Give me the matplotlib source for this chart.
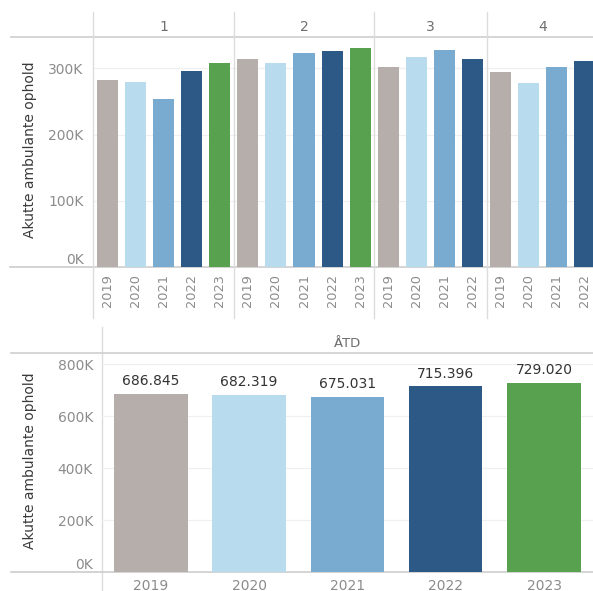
import matplotlib
matplotlib.use("Agg")
import matplotlib.pyplot as plt
from matplotlib.ticker import FuncFormatter

# ---------------- data ----------------
years = ["2019", "2020", "2021", "2022", "2023"]
quarters = ["1", "2", "3", "4"]
q1_values = [282500, 279000, 253000, 296000, 307700]
q2_values = [314000, 307700, 323000, 326000, 331000]
q3_values = [302000, 317000, 328000, 315000]
q4_values = [294500, 278000, 301700, 310700]
atd_years = ["2019", "2020", "2021", "2022", "2023"]
atd_values = [686845, 682319, 675031, 715396, 729020]
atd_header = "ÅTD"
y_label = "Akutte ambulante ophold"

year_colors = {"2019": "#b6aeaa", "2020": "#b8dbee", "2021": "#79aad0",
               "2022": "#2c5985", "2023": "#58a14e"}

plt.rcParams['font.family'] = ['DejaVu Sans']

W, H = 593, 591
fig = plt.figure(figsize=(W / 100, H / 100), dpi=100)
fig.patch.set_facecolor("white")


def rect(x0, y0, x1, y1):
    return [x0 / W, 1 - y1 / H, (x1 - x0) / W, (y1 - y0) / H]


# overlay for structural lines
ov = fig.add_axes([0, 0, 1, 1])
ov.set_xlim(0, W)
ov.set_ylim(H, 0)
ov.axis("off")
ov.patch.set_alpha(0)

line_c = "#d2d2d2"
# top chart structure
ov.plot([11, W], [36.7, 36.7], color=line_c, lw=1.3)
ov.plot([10, W], [266.7, 266.7], color="#c8c8c8", lw=1.1)
# bottom chart structure
ov.plot([101.7, 101.7], [327, H], color="#dcdcdc", lw=1.0)
ov.plot([11, W], [352.7, 352.7], color=line_c, lw=1.3)
ov.plot([11, W], [572.3, 572.3], color="#c8c8c8", lw=1.1)

kfmt = FuncFormatter(lambda v, p: f"{int(round(v / 1000))}K")
tick_c = "#8c8c8c"

# ---------------- top chart ----------------
top0, top1 = 36.7, 266.7
ax = fig.add_axes(rect(93.3, top0, 599, top1))
ax.set_facecolor("none")
panels = [q1_values, q2_values, q3_values, q4_values]
pos = 0
bounds = [0]
xt, xl = [], []
for vals in panels:
    for i, v in enumerate(vals):
        yr = years[i]
        ax.bar(pos + 0.5, v, width=0.75, color=year_colors[yr], zorder=2)
        xt.append(pos + 0.5)
        xl.append(yr)
        pos += 1
    bounds.append(pos)
ax.set_xlim(0, pos)
ax.set_ylim(0, 348000)
ax.set_yticks([0, 100000, 200000, 300000])
ax.yaxis.set_major_formatter(kfmt)
ax.set_xticks(xt)
ax.set_xticklabels(xl, rotation=90, fontsize=9.3, color=tick_c)
ax.tick_params(axis="x", length=0, pad=5)
ax.tick_params(axis="y", length=0, pad=7, labelsize=10, labelcolor=tick_c)
ax.get_yticklabels()[0].set_verticalalignment("bottom")
for s in ax.spines.values():
    s.set_visible(False)
ax.grid(axis="y", color="#f0f0f0", lw=0.9, zorder=0)
ax.set_axisbelow(True)
tr = ax.get_xaxis_transform()
hpx = top1 - top0
for b in bounds[:-1]:
    ax.plot([b, b], [(top1 - 12) / hpx, (top1 - 318) / hpx], transform=tr,
            color="#dcdcdc", lw=1.0, clip_on=False)
for qi, q in enumerate(quarters):
    c = (bounds[qi] + bounds[qi + 1]) / 2
    ax.text(c, (top1 - 26.7) / hpx, q, transform=tr, ha="center", va="center",
            fontsize=10, color="#6e6e6e")
fig.text(30 / W, 1 - 150 / H, y_label, rotation=90, ha="center", va="center",
         fontsize=10, color="#3a3a3a")

# ---------------- bottom chart ----------------
b0, b1 = 352.7, 572.3
ax2 = fig.add_axes(rect(101.7, b0, 593.2, b1))
ax2.set_facecolor("none")
xs = list(range(len(atd_years)))
bars = ax2.bar(xs, atd_values, width=0.746,
               color=[year_colors[y] for y in atd_years], zorder=2)
for x, v in zip(xs, atd_values):
    ax2.annotate(f"{v:,}".replace(",", "."), (x, v), xytext=(0, 4),
                 textcoords="offset points", ha="center", va="bottom",
                 fontsize=10, color="#333333")
ax2.set_xlim(-0.5, len(atd_years) - 0.5)
ax2.set_ylim(0, 845000)
ax2.set_yticks([0, 200000, 400000, 600000, 800000])
ax2.yaxis.set_major_formatter(kfmt)
ax2.set_xticks(xs)
ax2.set_xticklabels(atd_years, fontsize=10, color=tick_c)
ax2.tick_params(axis="x", length=0, pad=5)
ax2.tick_params(axis="y", length=0, pad=6.3, labelsize=10, labelcolor=tick_c)
ax2.get_yticklabels()[0].set_verticalalignment("bottom")
for s in ax2.spines.values():
    s.set_visible(False)
ax2.grid(axis="y", color="#f0f0f0", lw=0.9, zorder=0)
ax2.set_axisbelow(True)
tr2 = ax2.get_xaxis_transform()
ax2.text((len(atd_years) - 1) / 2, (b1 - 343.5) / (b1 - b0), atd_header,
         transform=tr2, ha="center", va="center", fontsize=9.5, color="#6e6e6e")
fig.text(30 / W, 1 - 461 / H, y_label, rotation=90, ha="center", va="center",
         fontsize=10, color="#3a3a3a")

fig.savefig("out.png", dpi=100, facecolor="white")
